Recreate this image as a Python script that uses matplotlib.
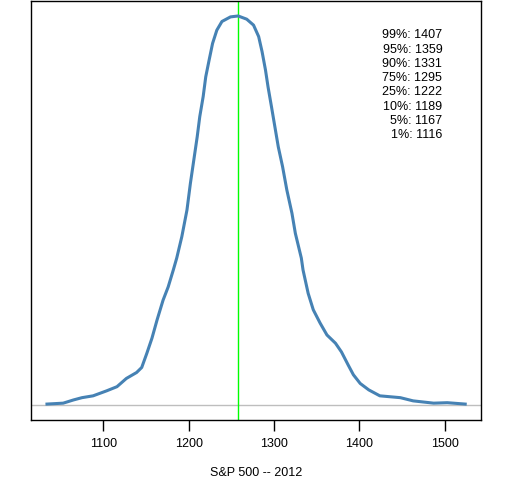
import matplotlib
matplotlib.use("Agg")
import matplotlib.pyplot as plt

# density estimate of S&P 500 level at end of 2012 (density x 1000)
level = [1034, 1053, 1065, 1075, 1088, 1104, 1116, 1127, 1139, 1145,
         1151, 1157, 1163, 1170, 1176, 1182, 1186, 1192, 1198, 1202,
         1206, 1210, 1213, 1217, 1220, 1224, 1228, 1233, 1239, 1249,
         1258, 1268, 1276, 1282, 1286, 1290, 1293, 1297, 1301, 1305,
         1310, 1315, 1321, 1325, 1332, 1334, 1340, 1346, 1354, 1362,
         1372, 1379, 1387, 1393, 1401, 1411, 1424, 1448, 1463, 1487,
         1503, 1524]
density = [0.02, 0.04, 0.11, 0.16, 0.20, 0.31, 0.40, 0.58, 0.71, 0.82,
           1.13, 1.46, 1.86, 2.29, 2.58, 2.95, 3.21, 3.68, 4.26, 4.84,
           5.35, 5.86, 6.30, 6.74, 7.17, 7.54, 7.90, 8.19, 8.38, 8.48,
           8.50, 8.43, 8.30, 8.05, 7.72, 7.32, 6.95, 6.52, 6.08, 5.64,
           5.21, 4.70, 4.19, 3.75, 3.21, 2.95, 2.44, 2.08, 1.79, 1.53,
           1.35, 1.16, 0.87, 0.66, 0.47, 0.33, 0.20, 0.16, 0.09, 0.04,
           0.05, 0.02]

current = 1257.6
quant_names = ["99%", "95%", "90%", "75%", "25%", "10%", "5%", "1%"]
quant_values = [1407, 1359, 1331, 1295, 1222, 1189, 1167, 1116]
xticks = [1100, 1200, 1300, 1400, 1500]

plt.rcParams["font.family"] = ["Liberation Sans", "DejaVu Sans"]

fig = plt.figure(figsize=(5.12, 4.8), dpi=100)
ax = fig.add_axes([0.0596, 0.125, 0.88, 0.873])

ax.axhline(0, color="#BEBEBE", lw=1.0)
ax.axvline(current, color="#00FF00", lw=1.0)
ax.plot(level, density, color="#4682B4", lw=2.2)

ax.set_xlim(1014.7, 1542.6)
ax.set_ylim(-0.328, 8.828)
ax.set_yticks([])
ax.set_xticks(xticks)
ax.tick_params(axis="x", length=8, width=1, pad=5, labelsize=9)
for s in ax.spines.values():
    s.set_linewidth(1)
    s.set_color("black")
ax.set_xlabel("S&P 500 -- 2012", fontsize=9, labelpad=12)

y0 = 0.918
for i, (nm, v) in enumerate(zip(quant_names, quant_values)):
    ax.text(0.914, y0 - i * 0.0341, f"{nm}: {v}", transform=ax.transAxes,
            ha="right", va="center", fontsize=9)

fig.savefig("out.png", dpi=100)
